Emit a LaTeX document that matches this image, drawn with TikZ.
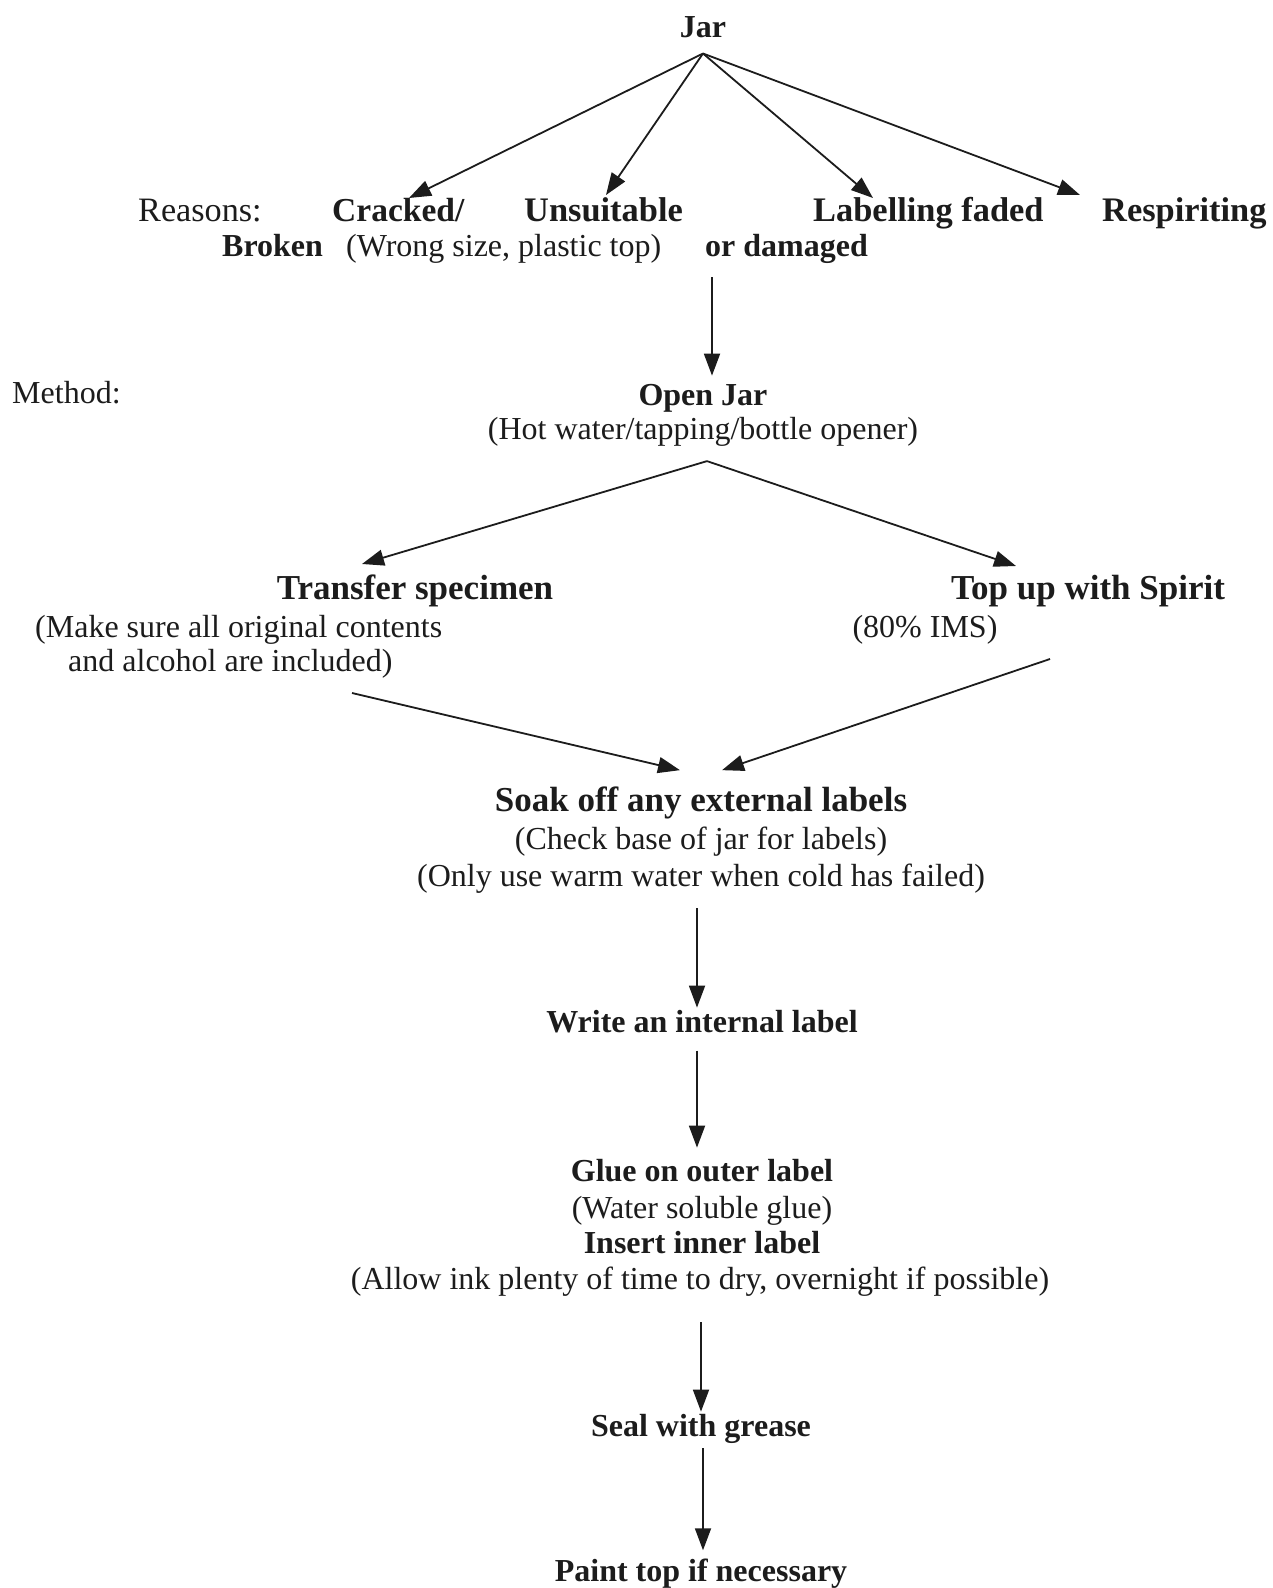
\documentclass[tikz,border=0pt]{standalone}
\usepackage{fontspec}
\setmainfont{Liberation Serif}
\usetikzlibrary{arrows.meta}
\definecolor{ink}{HTML}{1C1C1C}
\begin{document}
\begin{tikzpicture}[x=1pt,y=-1pt,
  txt/.style={inner sep=0pt, text=ink, font=\fontsize{32}{36}\selectfont},
  txtl/.style={inner sep=0pt, text=ink, font=\fontsize{34.2}{38}\selectfont},
  bt/.style={inner sep=0pt, text=ink, font=\fontsize{32}{36}\selectfont\bfseries},
  btm/.style={inner sep=0pt, text=ink, font=\fontsize{34.4}{38}\selectfont\bfseries},
  btl/.style={inner sep=0pt, text=ink, font=\fontsize{35}{39}\selectfont\bfseries},
  arr/.style={draw=ink, line width=1.8pt, -{Triangle[length=22pt,width=16pt]}}]
\useasboundingbox (0,0) rectangle (1273,1588);
\fill[white] (0,0) rectangle (1273,1588);
% nodes
\node[bt, anchor=base] (jar) at (703,37) {Jar};
\node[txtl, anchor=base west] (reasons) at (138,221) {Reasons:};
\node[bt, font=\fontsize{33.5}{38}\selectfont\bfseries, anchor=base west] (cracked) at (332,221) {Cracked/};
\node[btm, anchor=base west] (unsuit) at (524,221) {Unsuitable};
\node[btm, anchor=base west] (faded) at (813,221) {Labelling faded};
\node[btm, anchor=base west] (resp) at (1102,221) {Respiriting};
\node[bt, anchor=base west] (broken) at (222,256) {Broken};
\node[txt, anchor=base west] (wrong) at (346,256) {(Wrong size, plastic top)};
\node[bt, anchor=base west] (dam) at (705,256) {or damaged};
\node[txt, anchor=base west] (method) at (12,403) {Method:};
\node[bt, anchor=base] (open) at (703,405) {Open Jar};
\node[txt, anchor=base] (hot) at (703,439) {(Hot water/tapping/bottle opener)};
\node[btl, anchor=base] (transfer) at (415,599) {Transfer specimen};
\node[txt, anchor=base west] (make1) at (35,637) {(Make sure all original contents};
\node[txt, anchor=base west] (make2) at (68,671) {and alcohol are included)};
\node[btl, anchor=base] (topup) at (1088,599) {Top up with Spirit};
\node[txt, anchor=base] (ims) at (925,637) {(80\% IMS)};
\node[btl, anchor=base] (soak) at (701,811) {Soak off any external labels};
\node[txt, anchor=base] (check) at (701,849) {(Check base of jar for labels)};
\node[txt, anchor=base] (only) at (701,886) {(Only use warm water when cold has failed)};
\node[bt, anchor=base] (write) at (702,1032) {Write an internal label};
\node[bt, anchor=base] (glue) at (702,1181) {Glue on outer label};
\node[txt, anchor=base] (water) at (702,1218) {(Water soluble glue)};
\node[bt, anchor=base] (insert) at (702,1253) {Insert inner label};
\node[txt, anchor=base] (allow) at (700,1289) {(Allow ink plenty of time to dry, overnight if possible)};
\node[bt, anchor=base] (seal) at (701,1436) {Seal with grease};
\node[bt, anchor=base] (paint) at (701,1581) {Paint top if necessary};
% free ends
\coordinate (jf) at ([yshift=-16pt]jar.south);
\coordinate (t1) at (409,198);
\coordinate (t2) at (606,195);
\coordinate (t3) at (873,198);
\coordinate (t4) at (1080,195);
\coordinate (ov) at ([xshift=4pt,yshift=-15pt]hot.south);
\coordinate (t5) at (362,564);
\coordinate (t6) at (1016,566);
\coordinate (s1) at (352,693);
\coordinate (s2) at (1050,659);
% connectors
\draw[arr] (jf) -- (t1);
\draw[arr] (jf) -- (t2);
\draw[arr] (jf) -- (t3);
\draw[arr] (jf) -- (t4);
\draw[arr] ([xshift=7pt,yshift=-14pt]dam.south west) -- ([xshift=9pt,yshift=8pt]open.north);
\draw[arr] (ov) -- (t5);
\draw[arr] (ov) -- (t6);
\draw[arr] (s1) -- ([xshift=-21pt,yshift=16pt]soak.north);
\draw[arr] (s2) -- ([xshift=21pt,yshift=16pt]soak.north);
\draw[arr] ([xshift=-4pt,yshift=-15pt]only.south) -- ([xshift=-5pt,yshift=2pt]write.north);
\draw[arr] ([xshift=-5pt,yshift=-18pt]write.south) -- ([xshift=-5pt,yshift=11pt]glue.north);
\draw[arr] ([xshift=1pt,yshift=-26pt]allow.south) -- ([xshift=0pt,yshift=2pt]seal.north);
\draw[arr] ([xshift=2pt,yshift=-5pt]seal.south) -- ([xshift=2pt,yshift=8pt]paint.north);
\end{tikzpicture}
\end{document}
